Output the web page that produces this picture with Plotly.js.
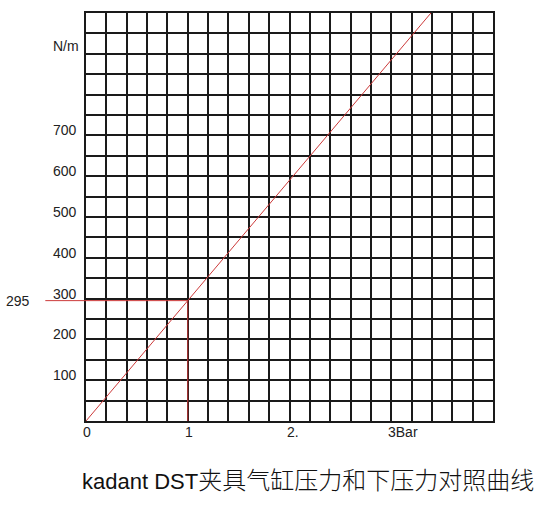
<!DOCTYPE html>
<html>
<head>
<meta charset="utf-8">
<script src="https://cdn.plot.ly/plotly-3.0.1.min.js"></script>
<style>html,body{margin:0;padding:0;background:#fff;}#chart{width:547px;height:505px;}</style>
</head>
<body>
<div id="chart"></div>
<script>
// Data
var pressureBar = [0, 3.39];          // cylinder pressure (Bar)
var forceNm = [0, 1000];              // down force (N/m)
var markPressure = 1;
var markForce = 295;
var xTickVals = [0, 1, 2, 3];
var xTickText = ['0', '1', '2.', '3Bar'];
var yTickVals = [100, 200, 300, 400, 500, 600, 700];
var yTickText = ['100', '200', '300', '400', '500', '600', '700'];
var yUnitVal = 910;
var yUnitText = 'N/m';
var titleLatin = 'kadant DST';
var titleCJK = '夹具气缸压力和下压力对照曲线';

var xRange = [0, 4], yRange = [0, 1000];
var red = '#cc3a3a';
var gridCol = '#1a1a1a';
var labelFont = {family: 'Liberation Sans, Arial, sans-serif', size: 14, color: '#222'};

var annotations = [];
xTickVals.forEach(function (v, i) {
  annotations.push({x: v, xref: 'x', y: 0, yref: 'paper', text: xTickText[i], showarrow: false,
    xanchor: 'left', yanchor: 'top', xshift: -5, yshift: -1, font: labelFont});
});
yTickVals.forEach(function (v, i) {
  annotations.push({x: 0, xref: 'paper', y: v, yref: 'y', text: yTickText[i], showarrow: false,
    xanchor: 'right', yanchor: 'middle', xshift: -7, yshift: 5, font: labelFont});
});
annotations.push({x: 0, xref: 'paper', y: yUnitVal, yref: 'y', text: yUnitText, showarrow: false,
  xanchor: 'right', yanchor: 'middle', xshift: -5, yshift: 4, font: labelFont});
annotations.push({x: 0, xref: 'paper', y: markForce, yref: 'y', text: String(markForce), showarrow: false,
  xanchor: 'right', yanchor: 'middle', xshift: -54, yshift: 0, font: labelFont});
annotations.push({x: 0.545, xref: 'paper', y: 0, yref: 'paper', showarrow: false,
  text: titleLatin + '<span style="font-family:Noto Sans CJK SC;font-size:24px;font-weight:300">' + titleCJK + '</span>',
  xanchor: 'center', yanchor: 'middle', yshift: -57,
  font: {family: 'Liberation Sans, Arial, sans-serif', size: 22, color: '#111'}});

var data = [{
  x: pressureBar, y: forceNm, type: 'scatter', mode: 'lines',
  line: {color: red, width: 1}, hoverinfo: 'skip', showlegend: false
}];

var layout = {
  width: 547, height: 505,
  margin: {l: 86, r: 54, t: 13, b: 84},
  paper_bgcolor: '#fff', plot_bgcolor: '#fff',
  showlegend: false,
  xaxis: {range: xRange, dtick: 0.2, tick0: 0, showticklabels: false, ticks: '',
    showgrid: true, gridcolor: gridCol, gridwidth: 2, zeroline: false,
    showline: true, linecolor: gridCol, linewidth: 2, mirror: true, fixedrange: true},
  yaxis: {range: yRange, dtick: 50, tick0: 0, showticklabels: false, ticks: '',
    showgrid: true, gridcolor: gridCol, gridwidth: 2, zeroline: false,
    showline: true, linecolor: gridCol, linewidth: 2, mirror: true, fixedrange: true},
  shapes: [
    {type: 'line', xref: 'x', yref: 'y', x0: xRange[0], x1: markPressure, y0: markForce, y1: markForce,
      line: {color: red, width: 1}},
    {type: 'line', xref: 'paper', yref: 'y', x0: -0.1, x1: 0, y0: markForce, y1: markForce,
      line: {color: red, width: 1}},
    {type: 'line', xref: 'x', yref: 'y', x0: markPressure, x1: markPressure, y0: yRange[0], y1: markForce,
      line: {color: red, width: 1}}
  ],
  annotations: annotations
};

Plotly.newPlot('chart', data, layout, {staticPlot: true, displayModeBar: false});
</script>
</body>
</html>
